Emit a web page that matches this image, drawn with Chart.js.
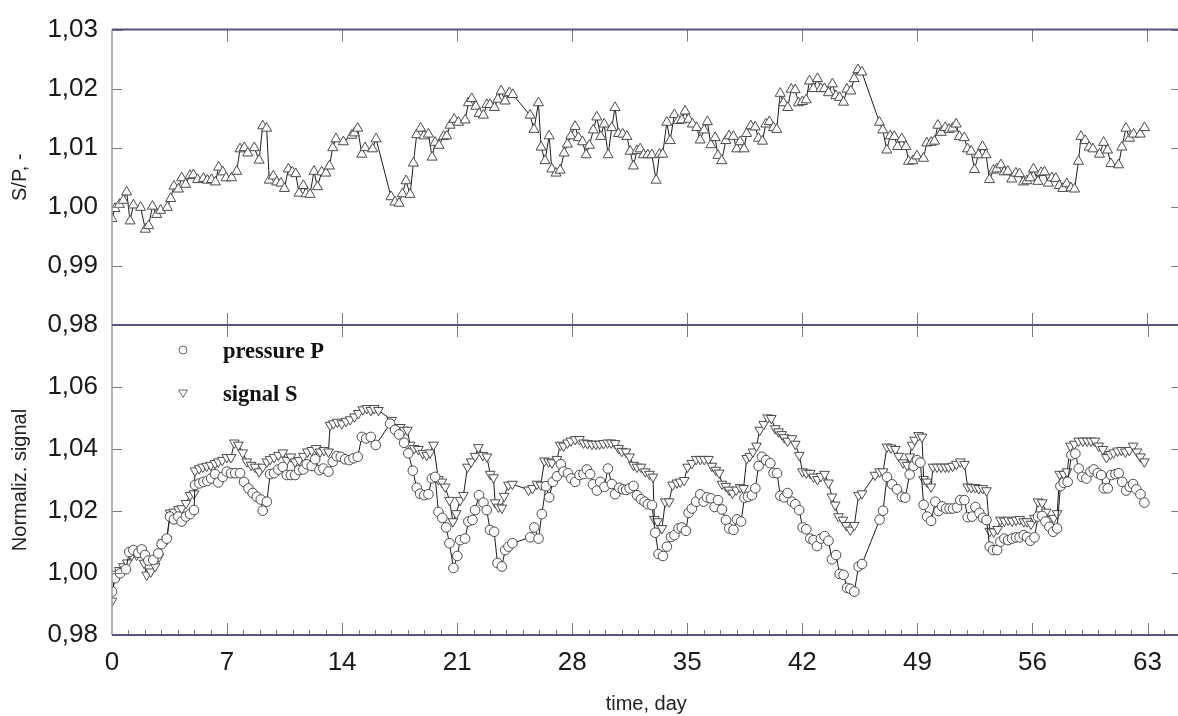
<!DOCTYPE html>
<html>
<head>
<meta charset="utf-8">
<script src="https://cdn.jsdelivr.net/npm/chart.js@4"></script>
<style>
  html, body { margin: 0; padding: 0; background: #fff; overflow: hidden; }
  #wrap { position: relative; width: 1178px; height: 716px; }
  canvas { position: absolute; left: 0; top: 0; }
</style>
</head>
<body>
<div id="wrap">
  <canvas id="topChart" width="1187" height="716"></canvas>
  <canvas id="bottomChart" width="1187" height="716"></canvas>
</div>
<script>
// upper panel: ratio S/P
const topDays = [0.00,0.18,0.45,0.69,0.89,1.10,1.30,1.74,2.03,2.23,2.46,2.72,2.96,3.37,3.57,3.77,4.04,4.24,4.48,4.75,4.95,5.21,5.56,5.80,6.06,6.29,6.49,6.74,6.94,7.28,7.59,7.79,8.05,8.26,8.66,8.95,9.17,9.41,9.57,9.82,10.02,10.28,10.49,10.73,10.97,11.18,11.38,11.64,11.81,12.05,12.29,12.50,12.76,13.02,13.23,13.43,13.63,14.08,14.59,14.75,14.95,15.20,15.40,15.86,16.07,16.98,17.22,17.47,17.67,17.89,18.14,18.34,18.54,18.78,18.98,19.25,19.48,19.66,19.90,20.17,20.37,20.57,20.82,21.08,21.49,21.69,21.89,22.14,22.34,22.60,22.81,23.00,23.27,23.47,23.68,23.92,24.18,24.39,25.44,25.68,25.95,26.11,26.35,26.60,26.76,27.02,27.27,27.51,27.71,27.92,28.18,28.38,28.63,28.85,29.05,29.29,29.50,29.74,29.95,30.19,30.41,30.61,30.82,31.08,31.33,31.53,31.73,31.94,32.14,32.34,32.60,32.85,33.11,33.31,33.51,33.76,33.96,34.22,34.46,34.67,34.87,35.08,35.32,35.58,35.79,36.03,36.23,36.44,36.70,36.87,37.10,37.35,37.55,37.81,38.01,38.22,38.46,38.62,38.87,39.14,39.34,39.58,39.78,40.00,40.25,40.45,40.66,40.86,41.12,41.33,41.57,41.77,42.01,42.24,42.44,42.68,42.93,43.13,43.35,43.60,43.84,44.05,44.27,44.51,44.72,44.96,45.16,45.39,45.63,46.70,46.90,47.15,47.35,47.60,47.80,48.06,48.31,48.47,48.73,48.98,49.38,49.58,49.85,50.05,50.25,50.46,50.70,50.94,51.15,51.37,51.57,51.86,52.06,52.28,52.48,52.72,52.97,53.19,53.39,53.64,53.84,54.09,54.29,54.51,54.75,55.00,55.22,55.46,55.67,55.87,56.07,56.34,56.54,56.74,56.98,57.19,57.43,57.64,57.86,58.10,58.35,58.57,58.81,58.96,59.22,59.46,59.69,60.09,60.34,60.58,60.78,61.25,61.45,61.70,61.92,62.16,62.57,62.83];
const topRatio = [0.9980,0.9997,1.0004,1.0011,1.0025,0.9976,1.0003,0.9999,0.9962,0.9968,1.0001,0.9987,0.9994,0.9999,1.0014,1.0035,1.0030,1.0049,1.0038,1.0053,1.0054,1.0046,1.0048,1.0045,1.0046,1.0042,1.0067,1.0059,1.0049,1.0049,1.0060,1.0098,1.0100,1.0091,1.0100,1.0079,1.0137,1.0133,1.0045,1.0052,1.0042,1.0040,1.0031,1.0064,1.0059,1.0056,1.0023,1.0036,1.0022,1.0021,1.0060,1.0034,1.0059,1.0057,1.0069,1.0100,1.0115,1.0110,1.0121,1.0125,1.0133,1.0089,1.0100,1.0098,1.0115,1.0017,1.0008,1.0006,1.0022,1.0044,1.0021,1.0074,1.0122,1.0133,1.0120,1.0123,1.0084,1.0109,1.0104,1.0119,1.0120,1.0138,1.0148,1.0143,1.0147,1.0176,1.0183,1.0170,1.0158,1.0155,1.0173,1.0173,1.0168,1.0182,1.0196,1.0179,1.0193,1.0190,1.0155,1.0131,1.0176,1.0101,1.0078,1.0120,1.0064,1.0057,1.0062,1.0091,1.0106,1.0120,1.0136,1.0117,1.0110,1.0088,1.0104,1.0130,1.0152,1.0119,1.0140,1.0088,1.0134,1.0168,1.0124,1.0123,1.0119,1.0094,1.0069,1.0095,1.0098,1.0088,1.0088,1.0088,1.0045,1.0089,1.0089,1.0143,1.0112,1.0156,1.0146,1.0147,1.0162,1.0148,1.0140,1.0134,1.0113,1.0130,1.0144,1.0105,1.0117,1.0087,1.0078,1.0112,1.0120,1.0119,1.0098,1.0110,1.0098,1.0124,1.0137,1.0135,1.0116,1.0111,1.0140,1.0144,1.0134,1.0131,1.0192,1.0176,1.0168,1.0199,1.0198,1.0176,1.0178,1.0181,1.0213,1.0200,1.0217,1.0200,1.0200,1.0193,1.0208,1.0188,1.0185,1.0177,1.0199,1.0196,1.0217,1.0232,1.0228,1.0143,1.0130,1.0096,1.0120,1.0119,1.0102,1.0115,1.0102,1.0077,1.0078,1.0086,1.0082,1.0108,1.0109,1.0111,1.0138,1.0126,1.0134,1.0131,1.0133,1.0140,1.0119,1.0117,1.0098,1.0094,1.0063,1.0088,1.0102,1.0088,1.0046,1.0062,1.0064,1.0071,1.0059,1.0060,1.0047,1.0057,1.0056,1.0042,1.0044,1.0049,1.0064,1.0043,1.0058,1.0059,1.0040,1.0049,1.0048,1.0036,1.0031,1.0039,1.0032,1.0030,1.0077,1.0119,1.0112,1.0101,1.0098,1.0089,1.0109,1.0096,1.0073,1.0071,1.0101,1.0133,1.0116,1.0123,1.0123,1.0134];

// lower panel: pressure P
const pDays = [0.00,0.18,0.49,0.85,1.05,1.30,1.60,1.81,2.01,2.21,2.51,2.82,3.02,3.33,3.53,3.77,4.04,4.24,4.50,4.75,4.99,5.05,5.32,5.56,5.80,6.03,6.27,6.47,6.74,6.98,7.24,7.49,7.79,8.03,8.30,8.56,8.81,9.05,9.17,9.42,9.62,9.86,10.12,10.39,10.63,10.88,11.14,11.38,11.64,11.85,12.15,12.36,12.62,12.86,13.17,13.43,13.67,13.92,14.18,14.44,14.69,14.95,15.20,15.46,15.74,16.05,16.92,17.22,17.47,17.77,18.03,18.30,18.54,18.74,18.99,19.25,19.46,19.66,19.86,20.10,20.33,20.53,20.77,21.01,21.18,21.48,21.68,21.93,22.09,22.33,22.60,22.80,23.00,23.25,23.45,23.72,23.92,24.12,24.36,25.44,25.69,25.95,26.15,26.40,26.60,26.82,27.07,27.31,27.47,27.74,27.94,28.18,28.44,28.69,28.89,29.09,29.26,29.50,29.70,29.96,30.17,30.41,30.61,30.86,31.08,31.28,31.49,31.73,31.94,32.18,32.40,32.60,32.85,33.05,33.25,33.52,33.76,34.01,34.22,34.47,34.67,34.92,35.08,35.28,35.54,35.79,35.99,36.20,36.44,36.66,36.87,37.11,37.35,37.55,37.81,38.02,38.27,38.48,38.69,38.93,39.14,39.34,39.54,39.79,40.05,40.25,40.46,40.66,40.90,41.10,41.37,41.57,41.81,42.01,42.24,42.48,42.68,42.89,43.13,43.35,43.59,43.80,44.05,44.27,44.51,44.72,44.92,45.16,45.42,45.63,46.70,46.91,47.15,47.46,47.76,48.06,48.26,48.53,48.77,48.98,49.18,49.38,49.59,49.83,50.09,50.29,50.50,50.74,50.96,51.17,51.41,51.61,51.86,52.06,52.33,52.53,52.77,52.99,53.20,53.40,53.60,53.85,54.05,54.29,54.52,54.76,55.00,55.22,55.47,55.67,55.87,56.12,56.34,56.59,56.79,57.03,57.26,57.50,57.70,57.90,58.14,58.37,58.61,58.81,59.02,59.28,59.53,59.73,59.97,60.18,60.34,60.58,60.79,61.05,61.25,61.46,61.70,61.92,62.12,62.32,62.57,62.81];
const pressureP = [0.9940,0.9983,0.9999,1.0012,1.0068,1.0074,1.0065,1.0076,1.0058,1.0040,1.0042,1.0063,1.0093,1.0111,1.0182,1.0173,1.0182,1.0166,1.0182,1.0190,1.0203,1.0284,1.0289,1.0294,1.0297,1.0305,1.0319,1.0292,1.0310,1.0327,1.0322,1.0322,1.0322,1.0294,1.0273,1.0258,1.0246,1.0237,1.0201,1.0230,1.0319,1.0322,1.0334,1.0342,1.0316,1.0316,1.0316,1.0332,1.0334,1.0351,1.0345,1.0367,1.0332,1.0337,1.0327,1.0359,1.0377,1.0375,1.0367,1.0364,1.0370,1.0375,1.0439,1.0434,1.0439,1.0413,1.0482,1.0462,1.0447,1.0420,1.0386,1.0330,1.0275,1.0256,1.0251,1.0254,1.0305,1.0310,1.0197,1.0178,1.0147,1.0096,1.0016,1.0055,1.0106,1.0111,1.0166,1.0171,1.0203,1.0251,1.0227,1.0203,1.0139,1.0133,1.0032,1.0021,1.0074,1.0085,1.0096,1.0115,1.0147,1.0111,1.0190,1.0280,1.0244,1.0294,1.0312,1.0351,1.0327,1.0322,1.0305,1.0294,1.0316,1.0319,1.0334,1.0319,1.0286,1.0266,1.0294,1.0278,1.0337,1.0287,1.0254,1.0275,1.0270,1.0268,1.0273,1.0281,1.0251,1.0238,1.0230,1.0222,1.0219,1.0130,1.0061,1.0055,1.0085,1.0116,1.0122,1.0144,1.0147,1.0136,1.0194,1.0208,1.0230,1.0254,1.0230,1.0244,1.0241,1.0213,1.0235,1.0205,1.0171,1.0144,1.0139,1.0173,1.0166,1.0243,1.0246,1.0251,1.0273,1.0345,1.0375,1.0364,1.0354,1.0323,1.0322,1.0249,1.0244,1.0258,1.0230,1.0222,1.0203,1.0147,1.0141,1.0111,1.0106,1.0087,1.0111,1.0119,1.0104,1.0044,1.0058,0.9997,0.9994,0.9952,0.9949,0.9940,1.0021,1.0029,1.0172,1.0201,1.0310,1.0286,1.0270,1.0246,1.0243,1.0318,1.0345,1.0364,1.0356,1.0220,1.0182,1.0168,1.0230,1.0200,1.0215,1.0208,1.0208,1.0208,1.0211,1.0235,1.0235,1.0180,1.0182,1.0213,1.0194,1.0178,1.0171,1.0085,1.0074,1.0074,1.0101,1.0111,1.0106,1.0111,1.0115,1.0115,1.0122,1.0116,1.0104,1.0115,1.0182,1.0184,1.0166,1.0149,1.0133,1.0144,1.0280,1.0291,1.0294,1.0380,1.0385,1.0337,1.0310,1.0305,1.0327,1.0334,1.0322,1.0316,1.0273,1.0273,1.0316,1.0319,1.0322,1.0294,1.0266,1.0278,1.0287,1.0270,1.0254,1.0227];

// lower panel: signal S
const sDays = [0.00,0.18,0.44,0.69,0.93,1.20,1.50,1.75,1.95,2.11,2.36,2.62,2.86,3.09,3.33,3.53,3.77,4.04,4.24,4.50,4.75,4.99,5.05,5.30,5.52,5.76,6.01,6.27,6.47,6.71,6.98,7.24,7.44,7.69,7.95,8.20,8.46,8.70,8.95,9.17,9.42,9.62,9.86,10.12,10.39,10.63,10.88,11.14,11.38,11.64,11.89,12.15,12.42,12.66,12.90,13.17,13.27,13.47,13.71,13.98,14.24,14.49,14.75,14.99,15.26,15.50,15.75,15.95,16.21,17.02,17.29,17.53,17.77,17.97,18.14,18.38,18.64,18.91,19.15,19.35,19.56,19.86,20.07,20.27,20.53,20.74,20.94,21.18,21.38,21.63,21.85,22.09,22.29,22.56,22.81,23.01,23.21,23.31,23.51,23.72,23.86,24.12,24.36,25.34,25.58,25.85,26.09,26.31,26.56,26.76,27.07,27.27,27.47,27.71,27.92,28.18,28.44,28.69,28.93,29.20,29.44,29.66,29.90,30.15,30.37,30.61,30.82,31.02,31.27,31.49,31.73,31.94,32.18,32.44,32.70,32.91,33.00,33.19,33.46,33.66,33.90,34.10,34.37,34.57,34.81,35.02,35.28,35.54,35.79,36.03,36.29,36.50,36.74,36.94,37.11,37.35,37.55,37.75,37.98,38.22,38.42,38.62,38.80,38.99,39.21,39.41,39.65,39.89,40.11,40.35,40.55,40.75,40.90,41.10,41.37,41.57,41.81,42.01,42.24,42.48,42.68,42.92,43.13,43.35,43.59,43.80,44.00,44.20,44.47,44.67,44.92,45.16,45.42,45.63,46.42,46.70,46.91,47.15,47.39,47.66,47.86,48.13,48.37,48.53,48.67,48.83,49.07,49.28,49.38,49.59,49.83,49.95,50.20,50.44,50.70,50.90,51.14,51.37,51.61,51.86,52.06,52.28,52.53,52.73,52.97,53.20,53.40,53.64,53.88,54.05,54.29,54.52,54.76,55.00,55.22,55.47,55.67,55.91,56.12,56.34,56.59,56.83,57.05,57.29,57.50,57.66,57.90,58.11,58.31,58.55,58.81,59.06,59.33,59.57,59.79,60.03,60.28,60.50,60.74,60.94,61.18,61.41,61.65,61.89,62.12,62.36,62.57,62.81];
const signalS = [0.9910,0.9997,1.0009,1.0021,1.0033,1.0058,1.0058,1.0075,1.0032,0.9994,1.0004,1.0021,1.0052,1.0098,1.0108,1.0194,1.0197,1.0205,1.0208,1.0225,1.0251,1.0256,1.0330,1.0337,1.0342,1.0345,1.0348,1.0354,1.0359,1.0364,1.0373,1.0373,1.0420,1.0413,1.0388,1.0359,1.0348,1.0342,1.0327,1.0342,1.0359,1.0367,1.0373,1.0380,1.0388,1.0364,1.0375,1.0359,1.0364,1.0377,1.0391,1.0396,1.0402,1.0391,1.0396,1.0391,1.0477,1.0482,1.0487,1.0482,1.0490,1.0495,1.0504,1.0515,1.0527,1.0531,1.0525,1.0531,1.0525,1.0493,1.0470,1.0470,1.0461,1.0461,1.0413,1.0402,1.0399,1.0386,1.0380,1.0388,1.0413,1.0302,1.0294,1.0278,1.0235,1.0166,1.0192,1.0235,1.0251,1.0342,1.0359,1.0377,1.0405,1.0380,1.0375,1.0319,1.0308,1.0227,1.0213,1.0210,1.0248,1.0284,1.0287,1.0268,1.0273,1.0287,1.0284,1.0362,1.0359,1.0356,1.0367,1.0413,1.0410,1.0420,1.0426,1.0431,1.0431,1.0420,1.0418,1.0416,1.0416,1.0416,1.0418,1.0420,1.0420,1.0418,1.0402,1.0393,1.0391,1.0375,1.0348,1.0342,1.0342,1.0327,1.0319,1.0310,1.0173,1.0166,1.0144,1.0230,1.0230,1.0284,1.0291,1.0294,1.0299,1.0342,1.0354,1.0367,1.0367,1.0367,1.0367,1.0345,1.0332,1.0323,1.0287,1.0280,1.0268,1.0258,1.0268,1.0276,1.0273,1.0370,1.0377,1.0391,1.0410,1.0461,1.0480,1.0501,1.0499,1.0466,1.0456,1.0447,1.0437,1.0426,1.0434,1.0416,1.0380,1.0327,1.0323,1.0322,1.0310,1.0302,1.0312,1.0319,1.0291,1.0246,1.0220,1.0182,1.0171,1.0154,1.0139,1.0154,1.0251,1.0256,1.0316,1.0327,1.0327,1.0407,1.0404,1.0399,1.0377,1.0356,1.0348,1.0375,1.0413,1.0429,1.0444,1.0439,1.0302,1.0294,1.0278,1.0342,1.0342,1.0342,1.0342,1.0342,1.0345,1.0351,1.0359,1.0351,1.0278,1.0276,1.0276,1.0273,1.0273,1.0266,1.0135,1.0133,1.0141,1.0171,1.0168,1.0171,1.0168,1.0171,1.0173,1.0166,1.0166,1.0158,1.0177,1.0230,1.0227,1.0197,1.0173,1.0177,1.0192,1.0319,1.0319,1.0327,1.0410,1.0416,1.0426,1.0426,1.0426,1.0426,1.0426,1.0410,1.0399,1.0373,1.0383,1.0388,1.0394,1.0396,1.0391,1.0396,1.0410,1.0391,1.0375,1.0359];

// axes
const xTicks = [0, 7, 14, 21, 28, 35, 42, 49, 56, 63];
const topYTicks = [0.98, 0.99, 1.00, 1.01, 1.02, 1.03];
const bottomYTicks = [0.98, 1.00, 1.02, 1.04, 1.06];
const legendLabels = ['pressure P', 'signal S'];

const FONT = 'Liberation Sans, Arial, sans-serif';
Chart.defaults.font.family = FONT;
Chart.defaults.color = '#1a1a1a';

const toPoints = (xs, ys) => xs.map((d, i) => ({ x: d, y: ys[i] }));
const comma = v => Number(v).toFixed(2).replace('.', ',');

// frame, inward ticks
const frame = {
  id: 'frame',
  afterDraw(chart, args, opts) {
    const { ctx, chartArea: a, scales: { x, y } } = chart;
    ctx.save();
    ctx.strokeStyle = '#7a7a7a';
    ctx.lineWidth = 1;
    ctx.beginPath();
    xTicks.forEach(v => {
      if (v === 0) return;
      const px = Math.round(x.getPixelForValue(v)) + 0.5;
      ctx.moveTo(px, a.top); ctx.lineTo(px, a.top + 12);
      ctx.moveTo(px, a.bottom); ctx.lineTo(px, a.bottom - 12);
    });
    if (opts.minor) {
      for (let d = 1; d < x.max; d++) {
        if (d % 7 === 0) continue;
        const px = Math.round(x.getPixelForValue(d)) + 0.5;
        ctx.moveTo(px, a.bottom); ctx.lineTo(px, a.bottom - 5);
      }
    }
    opts.yTicks.forEach(v => {
      const py = Math.round(y.getPixelForValue(v)) + 0.5;
      ctx.moveTo(a.left, py); ctx.lineTo(a.left + 10, py);
      ctx.moveTo(a.right, py); ctx.lineTo(a.right - 9, py);
    });
    ctx.stroke();
    ctx.strokeStyle = '#9a9a9a';
    ctx.lineWidth = 1.5;
    ctx.beginPath();
    ctx.moveTo(a.left, a.top); ctx.lineTo(a.left, a.bottom);
    ctx.stroke();
    ctx.strokeStyle = '#55557f';
    ctx.lineWidth = 2;
    ctx.beginPath();
    ctx.moveTo(a.left, a.top); ctx.lineTo(a.right, a.top);
    ctx.moveTo(a.left, a.bottom); ctx.lineTo(a.right, a.bottom);
    ctx.stroke();
    ctx.restore();
  }
};

const legend = {
  id: 'legendBox',
  afterDraw(chart) {
    const ctx = chart.ctx;
    ctx.save();
    ctx.fillStyle = '#fff';
    ctx.strokeStyle = '#666';
    ctx.lineWidth = 1;
    ctx.beginPath();
    ctx.arc(183, 350, 4, 0, Math.PI * 2);
    ctx.fill(); ctx.stroke();
    ctx.beginPath();
    ctx.moveTo(178.5, 390); ctx.lineTo(187.5, 390); ctx.lineTo(183, 397.5); ctx.closePath();
    ctx.fill(); ctx.stroke();
    ctx.fillStyle = '#111';
    ctx.font = 'bold 22.5px "Liberation Serif", "Times New Roman", serif';
    ctx.textBaseline = 'alphabetic';
    ctx.fillText(legendLabels[0], 223, 358);
    ctx.fillText(legendLabels[1], 223, 401);
    ctx.restore();
  }
};

function yScale(min, max, ticks, title) {
  return {
    type: 'linear', min: min, max: max,
    afterFit(s) { s.width = 112; },
    afterBuildTicks(s) { s.ticks = ticks.map(v => ({ value: v })); },
    grid: { display: false, drawTicks: false },
    border: { display: false },
    ticks: { padding: 14, font: { size: 26 }, color: '#1a1a1a', callback: v => comma(v) },
    title: { display: true, text: title, font: { size: 20 }, color: '#222', padding: { top: 8, bottom: 0 } }
  };
}

new Chart(document.getElementById('topChart'), {
  type: 'scatter',
  data: {
    datasets: [{
      label: 'S/P',
      data: toPoints(topDays, topRatio),
      showLine: true,
      borderColor: '#1e1e1e',
      borderWidth: 1,
      pointStyle: 'triangle',
      pointRadius: 5.8,
      pointBackgroundColor: '#fff',
      pointBorderColor: '#4a4a4a',
      pointBorderWidth: 1
    }]
  },
  options: {
    responsive: false,
    animation: false,
    devicePixelRatio: 1,
    layout: { padding: { top: 26, bottom: 391, left: 0, right: 1 } },
    plugins: { legend: { display: false }, tooltip: { enabled: false }, frame: { yTicks: topYTicks, minor: false } },
    scales: {
      x: { type: 'linear', min: 0, max: 65, display: false },
      y: yScale(0.98, 1.03, topYTicks, 'S/P, -')
    }
  },
  plugins: [frame]
});

new Chart(document.getElementById('bottomChart'), {
  type: 'scatter',
  data: {
    datasets: [{
      label: legendLabels[0],
      data: toPoints(pDays, pressureP),
      showLine: true,
      borderColor: '#1e1e1e',
      borderWidth: 1,
      pointStyle: 'circle',
      pointRadius: 4.8,
      pointBackgroundColor: '#fff',
      pointBorderColor: '#4a4a4a',
      pointBorderWidth: 1
    }, {
      label: legendLabels[1],
      data: toPoints(sDays, signalS),
      showLine: true,
      borderColor: '#1e1e1e',
      borderWidth: 1,
      pointStyle: 'triangle',
      rotation: 180,
      pointRotation: 180,
      pointRadius: 5.6,
      pointBackgroundColor: '#fff',
      pointBorderColor: '#4a4a4a',
      pointBorderWidth: 1
    }]
  },
  options: {
    responsive: false,
    animation: false,
    devicePixelRatio: 1,
    layout: { padding: { top: 325, bottom: 0, left: 0, right: 1 } },
    plugins: { legend: { display: false }, tooltip: { enabled: false }, frame: { yTicks: bottomYTicks, minor: true } },
    scales: {
      x: {
        type: 'linear', min: 0, max: 65,
        afterFit(s) { s.height = 81; },
        afterBuildTicks(s) { s.ticks = xTicks.map(v => ({ value: v })); },
        grid: { display: false, drawTicks: false },
        border: { display: false },
        ticks: { padding: 12, maxRotation: 0, font: { size: 26 }, color: '#1a1a1a', callback: v => String(v) },
        title: { display: true, text: 'time, day', font: { size: 20 }, color: '#222', padding: { top: -1, bottom: 0 } }
      },
      y: yScale(0.98, 1.08, bottomYTicks, 'Normaliz. signal')
    }
  },
  plugins: [frame, legend]
});
</script>
</body>
</html>
